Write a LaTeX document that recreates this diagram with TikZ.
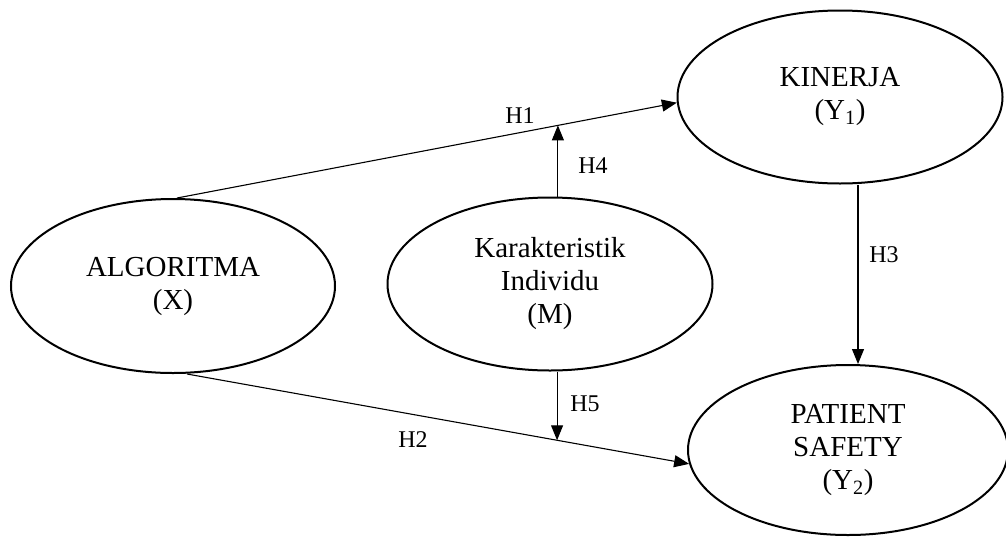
\documentclass[tikz,border=0pt]{standalone}
\usepackage{fontspec}
\setmainfont{Liberation Serif}
\usetikzlibrary{shapes.geometric,arrows.meta,calc}
\begin{document}
\begin{tikzpicture}[x=1pt,y=-1pt,
  var/.style={ellipse,draw,line width=2pt,inner sep=0pt,align=center,
    font=\fontsize{29}{33}\selectfont},
  lbl/.style={font=\fontsize{24}{28}\selectfont,inner sep=0pt},
  link/.style={line width=1.1pt,-{Triangle[length=15pt,width=12pt]}}]
\useasboundingbox (0,0) rectangle (1006,536);
\node[var,minimum width=324pt,minimum height=174pt] (alg) at (173,286) {ALGORITMA\\(X)};
\node[var,minimum width=325pt,minimum height=173pt] (kar) at (550,284) {Karakteristik\\Individu\\(M)};
\node[var,minimum width=325pt,minimum height=173pt] (kin) at (840,97) {KINERJA\\(Y\textsubscript{1})};
\node[var,minimum width=320pt,minimum height=170pt] (ps) at (848,450) {PATIENT\\SAFETY\\(Y\textsubscript{2})};
\draw[link] ($(alg.north)+(4,0)$) -- (kin.182) coordinate[pos=0.762] (m1);
\draw[link] ($(alg.south)+(14,0)$) -- (ps.185) coordinate[pos=0.737] (m2);
\draw[link] (m1 |- kar.north) -- (m1);
\draw[link] (m2 |- kar.south) -- (m2);
\draw[link] ($(kin.south)+(18,0)$) -- ($(ps.north)+(10,0)$);
\node[lbl] (h1) at (520,116) {H1};
\node[lbl] (h4) at (593,166) {H4};
\node[lbl] (h3) at (884,255) {H3};
\node[lbl] (h5) at (585,404) {H5};
\node[lbl] (h2) at (413,440) {H2};
\end{tikzpicture}
\end{document}
